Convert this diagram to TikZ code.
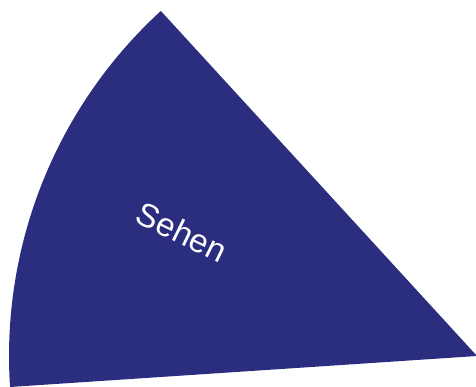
\documentclass[tikz,border=0pt]{standalone}
\usepackage{fontspec}
\setmainfont{Liberation Sans}
\definecolor{sehenblue}{RGB}{43,45,126}

\begin{document}
\begin{tikzpicture}[x=1pt, y=1pt,
    sector/.style={fill=sehenblue, draw=none},
    lab/.style={text=white, font=\fontsize{33}{33}\selectfont, rotate=-26, inner sep=0pt}
  ]
    \useasboundingbox (0,0) rectangle (476,387);
    \coordinate (centre) at (477,31);
    \fill[sector] (centre) -- ++(132.5:468) arc[start angle=132.5, end angle=183.8, radius=468] -- cycle;
    \node[lab] (sehen) at (182,155) {Sehen};
  \end{tikzpicture}
\end{document}
